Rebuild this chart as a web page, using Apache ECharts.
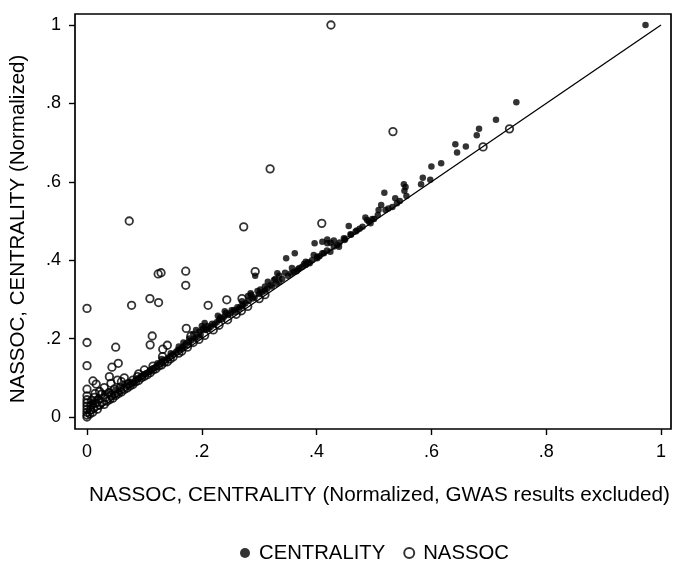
<!DOCTYPE html>
<html>
<head>
<meta charset="utf-8">
<script src="https://cdn.jsdelivr.net/npm/echarts@6/dist/echarts.min.js"></script>
<style>
html,body{margin:0;padding:0;background:#fff;}
#chart{width:674px;height:562px;}
</style>
</head>
<body>
<div id="chart"></div>
<script>
// Tick values and labels
const tickValues = [0, 0.2, 0.4, 0.6, 0.8, 1];
const tickLabels = ['0', '.2', '.4', '.6', '.8', '1'];
const seriesNames = ['CENTRALITY', 'NASSOC'];

// CENTRALITY (filled dots): [x, y]
const centrality = [
  [0.973,1.0],[0.748,0.803],[0.7125,0.758],[0.683,0.735],[0.679,0.719],[0.66,0.69],
  [0.6417,0.6957],[0.6447,0.675],[0.617,0.647],[0.6,0.639],[0.598,0.605],[0.585,0.61],
  [0.582,0.594],[0.552,0.594],[0.555,0.587],[0.553,0.577],[0.5565,0.564],[0.518,0.572],
  [0.537,0.558],[0.545,0.551],[0.532,0.536],[0.5125,0.541],[0.508,0.528],[0.5066,0.515],
  [0.485,0.509],[0.488,0.5026],[0.491,0.498],[0.494,0.494],[0.497,0.505],[0.456,0.487],
  [0.459,0.466],[0.468,0.473],[0.4475,0.456],[0.43,0.45],[0.4245,0.4447],[0.4186,0.453],
  [0.41,0.447],[0.3965,0.443],[0.4487,0.4515],[0.439,0.434],[0.436,0.439],[0.4186,0.443],
  [0.395,0.413],[0.401,0.409],[0.381,0.396],[0.375,0.383],[0.388,0.392],[0.401,0.405],
  [0.4127,0.4176],[0.424,0.4217],[0.347,0.405],[0.362,0.4176],[0.3675,0.377],[0.381,0.388],
  [0.3316,0.3666],[0.3258,0.3495],[0.32,0.3367],[0.314,0.328],[0.293,0.36],[0.297,0.3214],
  [0.285,0.3155],[0.2805,0.3087],[0.256,0.273],[0.25,0.2645],[0.2388,0.256],[0.23,0.2474],
  [0.2157,0.2304],[0.207,0.222],[0.1954,0.2177],[0.19,0.222],[0.204,0.2262],[0.201,0.2237],
  [0.158,0.171],[0.146,0.1625],[0.123,0.137],[0.108,0.1156],
  [0.34,0.352],[0.335,0.345],[0.33,0.34],[0.328,0.352],[0.322,0.333],[0.31,0.322],
  [0.305,0.318],[0.3,0.314],[0.302,0.325],[0.292,0.305],[0.288,0.302],[0.282,0.297],
  [0.276,0.29],[0.272,0.285],[0.268,0.282],[0.265,0.277],[0.262,0.28],[0.258,0.268],
  [0.252,0.272],[0.246,0.26],[0.242,0.265],[0.236,0.25],[0.232,0.254],[0.226,0.242],
  [0.222,0.236],[0.218,0.238],[0.212,0.225],[0.21,0.232],[0.198,0.21],[0.193,0.205],
  [0.188,0.2],[0.185,0.212],[0.182,0.196],[0.178,0.19],[0.172,0.185],[0.168,0.18],
  [0.165,0.176],[0.162,0.172],[0.155,0.166],[0.15,0.16],[0.145,0.155],[0.14,0.15],
  [0.135,0.145],[0.13,0.14],[0.127,0.136],[0.12,0.128],[0.115,0.124],[0.11,0.12],
  [0.104,0.112],[0.1,0.11],[0.095,0.104],[0.09,0.1],[0.085,0.094],
  [0.35,0.36],[0.355,0.366],[0.36,0.37],[0.365,0.372],[0.37,0.38],[0.378,0.39],
  [0.385,0.395],[0.392,0.4],[0.405,0.41],[0.41,0.418],[0.418,0.425],[0.43,0.435],
  [0.44,0.445],[0.45,0.455],[0.46,0.465],[0.47,0.476],[0.475,0.48],[0.48,0.485],
  [0.5,0.505],[0.52,0.528],[0.525,0.532],[0.54,0.545],
  [0.02,0.05],[0.03,0.06],[0.04,0.066],[0.05,0.07],[0.06,0.075],[0.065,0.085],
  [0.075,0.09],[0.08,0.085],[0.012,0.04],[0.008,0.03],[0.045,0.055],[0.055,0.062],[0.07,0.078],
  [0.178,0.2],[0.2,0.232],[0.24,0.27],[0.27,0.295],[0.31,0.333],[0.335,0.36],[0.16,0.18],[0.13,0.148],
  [0.345,0.368],[0.357,0.38],[0.315,0.345],[0.286,0.312],[0.228,0.258],[0.205,0.24],[0.168,0.19]
];

// NASSOC (hollow circles): [x, y]
const nassoc = [
  [0.425,1.0],[0.533,0.728],[0.319,0.633],[0.0736,0.5],[0.273,0.485],[0.409,0.494],
  [0.736,0.735],[0.69,0.689],[0.124,0.365],[0.129,0.368],[0.172,0.372],[0.172,0.336],
  [0.1096,0.302],[0.1247,0.292],[0.0777,0.285],[0.0,0.277],[0.211,0.285],[0.2435,0.299],
  [0.27,0.302],[0.293,0.371],[0.173,0.226],[0.181,0.2066],[0.0,0.19],[0.0,0.131],
  [0.0,0.071],[0.0,0.054],[0.05,0.178],[0.0435,0.127],[0.0545,0.137],[0.0104,0.092],
  [0.016,0.084],[0.039,0.103],[0.11,0.184],[0.1136,0.2066],[0.132,0.173],[0.14,0.183],
  [0.1316,0.154],[0.14,0.141],[0.175,0.186],[0.269,0.271],[0.065,0.1],[0.0417,0.086],
  [0.088,0.103],[0.053,0.094],[0.08,0.094],
  [0,0],[0,0.005],[0,0.012],[0,0.02],[0,0.028],[0,0.036],[0,0.044],[0.005,0.008],
  [0.006,0.018],[0.007,0.03],[0.008,0.042],[0.01,0.012],[0.012,0.024],[0.013,0.05],
  [0.015,0.035],[0.018,0.02],[0.02,0.045],[0.022,0.03],[0.025,0.058],[0.026,0.038],
  [0.03,0.032],[0.032,0.05],[0.035,0.04],[0.038,0.062],[0.04,0.045],[0.042,0.055],
  [0.045,0.048],[0.048,0.072],[0.05,0.055],[0.055,0.06],[0.058,0.075],[0.06,0.064],
  [0.065,0.07],[0.07,0.074],[0.072,0.085],[0.075,0.079],[0.08,0.083],[0.085,0.09],
  [0.09,0.093],[0.095,0.1],[0.1,0.104],[0.105,0.108],[0.11,0.113],[0.115,0.12],
  [0.12,0.123],[0.125,0.13],[0.13,0.133],[0.135,0.14],[0.145,0.148],[0.15,0.153],
  [0.16,0.163],[0.165,0.168],[0.175,0.178],[0.185,0.19],[0.195,0.198],[0.205,0.208],
  [0.22,0.222],[0.23,0.234],[0.245,0.248],[0.26,0.262],[0.28,0.282],[0.3,0.302],
  [0.31,0.312],[0.06,0.09],[0.09,0.11],[0.1,0.12],[0.115,0.13],[0.03,0.075],
  [0.022,0.065],[0.014,0.06]
];

// Reference diagonal (y = x)
const diagonal = [[0,0],[1,1]];

const FONT = 'Liberation Sans, Arial, Helvetica, sans-serif';
const chart = echarts.init(document.getElementById('chart'), null, {renderer: 'canvas'});

const labelFmt = v => {
  const i = tickValues.findIndex(t => Math.abs(t - v) < 1e-9);
  return i >= 0 ? tickLabels[i] : '';
};

chart.setOption({
  animation: false,
  backgroundColor: '#fff',
  grid: {
    left: 74, right: 3, top: 14, bottom: 133,
    show: true, borderColor: '#000', borderWidth: 1.7, backgroundColor: '#fff'
  },
  legend: {
    left: 240, top: 543, padding: 0,
    itemWidth: 10, itemHeight: 10, itemGap: 18,
    textStyle: {fontFamily: FONT, fontSize: 20.3, color: '#000', lineHeight: 20, padding: [0,0,0,4]},
    data: [
      {name: seriesNames[0], icon: 'circle'},
      {name: seriesNames[1], icon: 'circle'}
    ]
  },
  xAxis: {
    type: 'value',
    min: -0.0209, max: 1.0174,
    name: 'NASSOC, CENTRALITY (Normalized, GWAS results excluded)',
    nameLocation: 'middle', nameGap: 56,
    nameTextStyle: {fontFamily: FONT, fontSize: 20.7, color: '#000', padding: [0,0,0,13]},
    splitLine: {show: false},
    axisLine: {show: false, onZero: false},
    axisTick: {show: true, length: 6, lineStyle: {color: '#000', width: 1.4}, customValues: tickValues},
    axisLabel: {fontFamily: FONT, fontSize: 18, color: '#000', margin: 14, customValues: tickValues, formatter: labelFmt}
  },
  yAxis: {
    type: 'value',
    min: -0.0306, max: 1.028,
    name: 'NASSOC, CENTRALITY (Normalized)',
    nameLocation: 'middle', nameGap: 46, nameRotate: 90,
    nameTextStyle: {fontFamily: FONT, fontSize: 20.5, color: '#000', padding: [0,15,0,0]},
    splitLine: {show: false},
    axisLine: {show: false, onZero: false},
    axisTick: {show: true, length: 6, lineStyle: {color: '#000', width: 1.4}, customValues: tickValues},
    axisLabel: {fontFamily: FONT, fontSize: 18, color: '#000', margin: 14, customValues: tickValues, formatter: labelFmt}
  },
  series: [
    {
      name: seriesNames[0], type: 'scatter', data: centrality,
      symbol: 'circle', symbolSize: 6.5,
      itemStyle: {color: '#000'}, z: 2
    },
    {
      name: seriesNames[1], type: 'scatter', data: nassoc,
      symbol: 'circle', symbolSize: 7.5,
      itemStyle: {color: 'rgba(255,255,255,0)', borderColor: '#000', borderWidth: 1.8}, z: 3
    },
    {
      name: 'fit', type: 'line', data: diagonal, symbol: 'none',
      lineStyle: {color: '#000', width: 1.3}, z: 1, silent: true
    }
  ]
});
</script>
</body>
</html>
